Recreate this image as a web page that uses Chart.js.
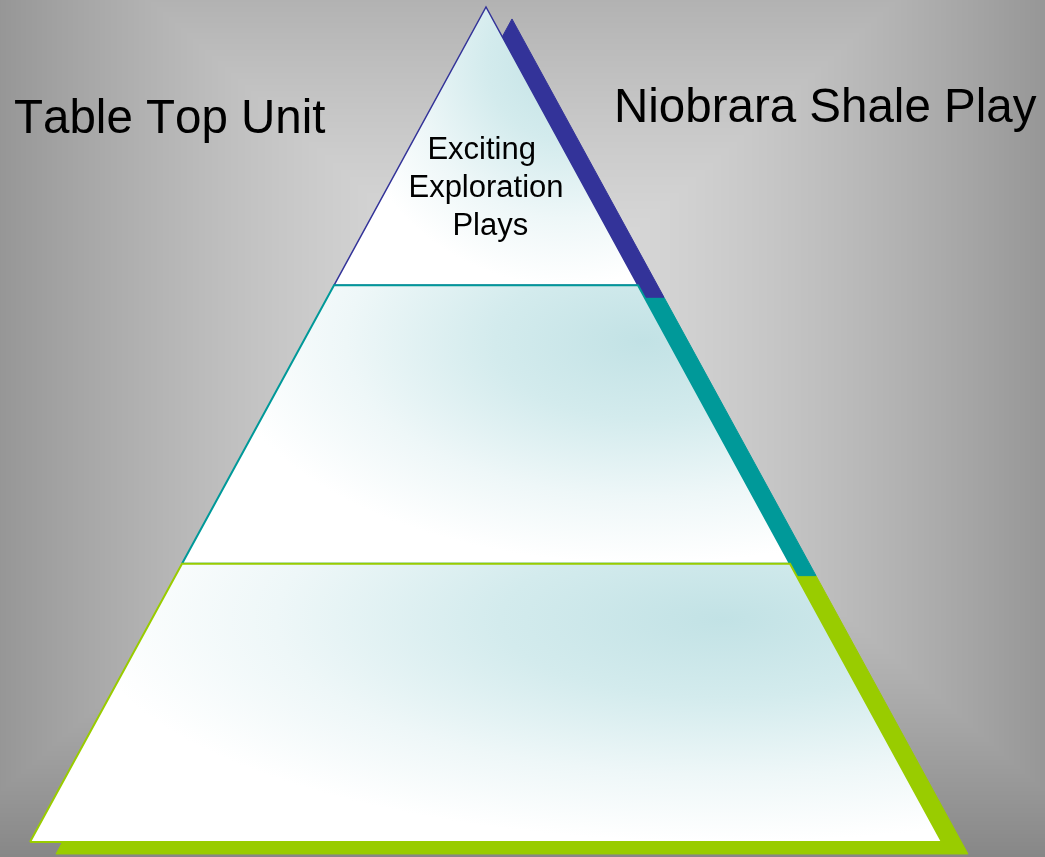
<!DOCTYPE html>
<html>
<head>
<meta charset="utf-8">
<title>Table Top Unit / Niobrara Shale Play</title>
<script src="https://cdn.jsdelivr.net/npm/chart.js@4.4.0/dist/chart.umd.min.js"></script>
<style>
  html, body { margin: 0; padding: 0; background: #c8c8c8; overflow: hidden; }
  #wrap { width: 1045px; height: 857px; position: relative; }
</style>
</head>
<body>
<div id="wrap"><canvas id="pyramidChart"></canvas></div>
<script>
// Pyramid data (height units: base = 0, apex = 3, base half-width = 1)
const tierNames = ['Top', 'Middle', 'Base'];
const tierTops = [3, 2, 1];
const tierBottoms = [2, 1, 0];
const tierLabels = [['Exciting ', 'Exploration', ' Plays'], [], []];
const apexHeight = 3;
const baseHalfWidth = 1;
const sideLabels = ['Table Top Unit', 'Niobrara Shale Play'];

// Styles
const tierColors = ['#333399', '#009999', '#99cc00'];
const shadowDX = 0.057;   // shadow shift, data units
const shadowDY = -0.043;
const FONT = '"Liberation Sans", Arial, Helvetica, sans-serif';

function halfWidthAt(h) {
  return baseHalfWidth * (apexHeight - h) / apexHeight;
}

// Build a tier polygon (closed) from the level arrays
function tierPoints(i, dx, dy) {
  const top = tierTops[i], bot = tierBottoms[i];
  const wTop = halfWidthAt(top), wBot = halfWidthAt(bot);
  const pts = [{ x: -wBot, y: bot }, { x: wBot, y: bot }, { x: wTop, y: top }];
  if (wTop > 0) pts.push({ x: -wTop, y: top });
  pts.push({ x: -wBot, y: bot });
  return pts.map(p => ({ x: p.x + dx, y: p.y + dy }));
}

// Light cyan sheen inside every tier (elliptical, drawn once)
let sheenPattern = null;
function getSheen(chart) {
  if (sheenPattern) return sheenPattern;
  const xs = chart.scales.x, ys = chart.scales.y;
  const off = document.createElement('canvas');
  off.width = chart.width;
  off.height = chart.height;
  const g = off.getContext('2d');
  g.fillStyle = '#ffffff';
  g.fillRect(0, 0, off.width, off.height);
  tierTops.forEach((top, i) => {
    const yTop = ys.getPixelForValue(top);
    const yBot = ys.getPixelForValue(tierBottoms[i]);
    const x0 = xs.getPixelForValue(0);
    const half = xs.getPixelForValue(halfWidthAt(tierBottoms[i])) - x0;
    const cx = x0 + 0.52 * half;
    const cy = yTop + 0.2 * (yBot - yTop);
    const ry = 0.8 * (yBot - yTop);
    const rx = Math.max(1.4 * half, ry);
    g.save();
    g.beginPath();
    g.rect(0, yTop, off.width, yBot - yTop);
    g.clip();
    g.translate(cx, cy);
    g.scale(rx / ry, 1);
    const grad = g.createRadialGradient(0, 0, 0, 0, 0, ry);
    grad.addColorStop(0, 'rgb(194,226,229)');
    grad.addColorStop(0.35, 'rgb(211,235,237)');
    grad.addColorStop(0.7, 'rgb(238,247,248)');
    grad.addColorStop(1, 'rgb(255,255,255)');
    g.fillStyle = grad;
    g.fillRect(-5000, -5000, 10000, 10000);
    g.restore();
  });
  sheenPattern = chart.ctx.createPattern(off, 'no-repeat');
  return sheenPattern;
}

// Grey "path" gradient behind the chart
let bgCanvas = null;
const backgroundPlugin = {
  id: 'slideBackground',
  beforeDraw(chart) {
    const w = chart.width, h = chart.height;
    if (!bgCanvas) {
      bgCanvas = document.createElement('canvas');
      bgCanvas.width = w;
      bgCanvas.height = h;
      const g = bgCanvas.getContext('2d');
      const img = g.createImageData(w, h);
      const cx = w * 0.5, cy = h * 0.385;
      for (let py = 0; py < h; py++) {
        for (let px = 0; px < w; px++) {
          const t = Math.min(1, Math.max(Math.abs(px - cx) / 600, Math.abs(py - cy) / 530));
          const c = Math.round(221 - 87 * Math.pow(t, 1.5));
          const k = (py * w + px) * 4;
          img.data[k] = c; img.data[k + 1] = c; img.data[k + 2] = c; img.data[k + 3] = 255;
        }
      }
      g.putImageData(img, 0, 0);
    }
    chart.ctx.drawImage(bgCanvas, 0, 0, w, h);
  }
};

// Text on the slide
const labelPlugin = {
  id: 'pyramidLabels',
  afterDatasetsDraw(chart) {
    const { ctx } = chart;
    const xs = chart.scales.x, ys = chart.scales.y;
    ctx.save();
    ctx.fillStyle = '#000000';
    ctx.textBaseline = 'alphabetic';
    if ('fontKerning' in ctx) ctx.fontKerning = 'none';

    // tier text
    ctx.textAlign = 'center';
    ctx.font = '31px ' + FONT;
    tierLabels.forEach((lines, i) => {
      const firstBase = ys.getPixelForValue(tierTops[i] - 0.545);
      lines.forEach((line, j) => {
        ctx.fillText(line, xs.getPixelForValue(0), firstBase + j * 38);
      });
    });

    // side titles
    ctx.textAlign = 'left';
    ctx.font = '47.5px ' + FONT;
    ctx.fillText(sideLabels[0], 14, 133);
    ctx.fillText(sideLabels[1], 614, 122);
    ctx.restore();
  }
};

const datasets = [];
// shadows first (drawn underneath)
tierNames.forEach((name, i) => {
  datasets.push({
    label: name + ' shadow',
    data: tierPoints(i, shadowDX, shadowDY),
    showLine: true,
    fill: 'shape',
    backgroundColor: tierColors[i],
    borderColor: tierColors[i],
    borderWidth: 1,
    pointRadius: 0,
    order: 10 + i
  });
});
// tiers (base drawn last, so its edge sits on top)
tierNames.forEach((name, i) => {
  datasets.push({
    label: name,
    data: tierPoints(i, 0, 0),
    showLine: true,
    fill: 'shape',
    backgroundColor: (c) => c.chart.chartArea ? getSheen(c.chart) : '#ffffff',
    borderColor: tierColors[i],
    borderWidth: i === 0 ? 1.5 : 2,
    borderJoinStyle: 'miter',
    pointRadius: 0,
    order: 3 - i
  });
});

new Chart(document.getElementById('pyramidChart'), {
  type: 'scatter',
  data: { datasets },
  options: {
    responsive: true,
    maintainAspectRatio: false,
    animation: false,
    layout: { padding: 0 },
    plugins: {
      legend: { display: false },
      tooltip: { enabled: false },
      filler: { propagate: false }
    },
    elements: { line: { tension: 0 } },
    scales: {
      x: { type: 'linear', display: false, min: -1.0658, max: 1.2259 },
      y: { type: 'linear', display: false, min: -0.0539, max: 3.0251 }
    }
  },
  plugins: [backgroundPlugin, labelPlugin]
});
</script>
</body>
</html>
